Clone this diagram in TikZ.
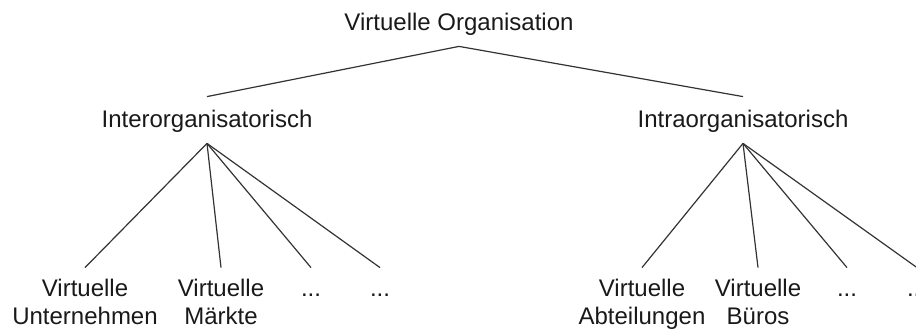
\documentclass[tikz,border=0pt]{standalone}
\usepackage{fontspec}
\setmainfont{Liberation Sans}
\begin{document}
\begin{tikzpicture}[x=0.5pt,y=-0.5pt,
  every node/.style={font=\fontsize{12}{14}\selectfont, text=black!90, inner xsep=2pt},
  headnode/.style={text height=9pt, text depth=1pt, inner ysep=6.5pt, anchor=base},
  % two-line leaves, placed on the baseline of their second line
  leafnode/.style={align=center, text height=23pt, inner ysep=5.5pt, anchor=base},
  link/.style={draw=black!80, line width=0.6pt}]
\useasboundingbox (0,0) rectangle (916,331);
\clip (0,0) rectangle (916,331);

% top and second level
\node[headnode] (root)  at (459,31)  {Virtuelle Organisation};
\node[headnode] (inter) at (207,128) {Interorganisatorisch};
\node[headnode] (intra) at (743,128) {Intraorganisatorisch};

% leaves of the left branch
\node[leafnode] (vu)  at (85,325)  {Virtuelle\\Unternehmen};
\node[leafnode] (vm)  at (221,325) {Virtuelle\\Märkte};
\node[leafnode] (il1) at (311,325) {...\\\mbox{}};
\node[leafnode] (il2) at (380,325) {...\\\mbox{}};

% leaves of the right branch
\node[leafnode] (va)  at (642,325) {Virtuelle\\Abteilungen};
\node[leafnode] (vb)  at (758,325) {Virtuelle\\Büros};
\node[leafnode] (ir1) at (847,325) {...\\\mbox{}};
\node[leafnode] (ir2) at (917,325) {...\\\mbox{}};

% connectors
\draw[link] (root.south) -- (inter.north);
\draw[link] (root.south) -- (intra.north);
\foreach \c in {vu,vm,il1,il2}
  \draw[link] (inter.south) -- (\c.north);
\foreach \c in {va,vb,ir1,ir2}
  \draw[link] (intra.south) -- (\c.north);
\end{tikzpicture}
\end{document}
